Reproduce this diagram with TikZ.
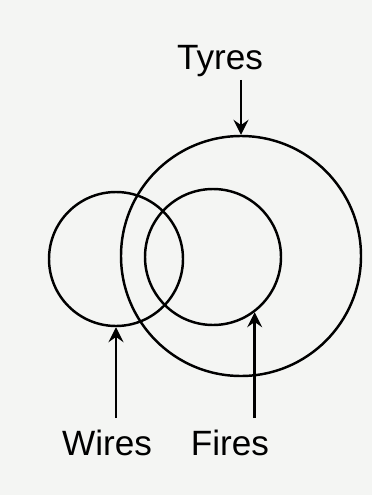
\documentclass[tikz,border=0pt]{standalone}
\usepackage{fontspec}
\setmainfont{Liberation Sans}
\usetikzlibrary{arrows.meta, positioning}
\definecolor{paper}{RGB}{244,245,243}

\begin{document}
\begin{tikzpicture}[
	set/.style={draw, circle, line width=1.4pt, inner sep=0pt},
	lbl/.style={font=\fontsize{20}{24}\selectfont, inner sep=0pt, anchor=base},
	arrow/.style={-{Stealth[length=8.5pt, width=8.5pt, inset=3pt]}, line width=1.4pt}]
	
	\fill[paper] (0,0) rectangle (7.44,-9.9);
	\useasboundingbox (0,0) rectangle (7.44,-9.9);
	
	\node[set, minimum size=4.8cm] (tyres) at (4.82,-5.12) {};
	\node[set, minimum size=2.68cm] (wires) at (2.32,-5.18) {};
	\node[set, minimum size=2.72cm] (fires) at (4.26,-5.14) {};
	
	\node[lbl, outer sep=1.5pt] (tyreslbl) at (4.40,-1.40) {Tyres};
	\node[lbl, outer sep=6.5pt] (wireslbl) at (2.14,-9.10) {Wires};
	\node[lbl, outer sep=6.5pt] (fireslbl) at (4.60,-9.10) {Fires};
	
	\draw[arrow] (tyreslbl.south -| tyres.north) -- (tyres.north);
	\draw[arrow] (wireslbl.north -| wires.south) -- (wires.south);
	\draw[arrow] (fireslbl.north -| fires.-53) -- (fires.-53);
\end{tikzpicture}
\end{document}
